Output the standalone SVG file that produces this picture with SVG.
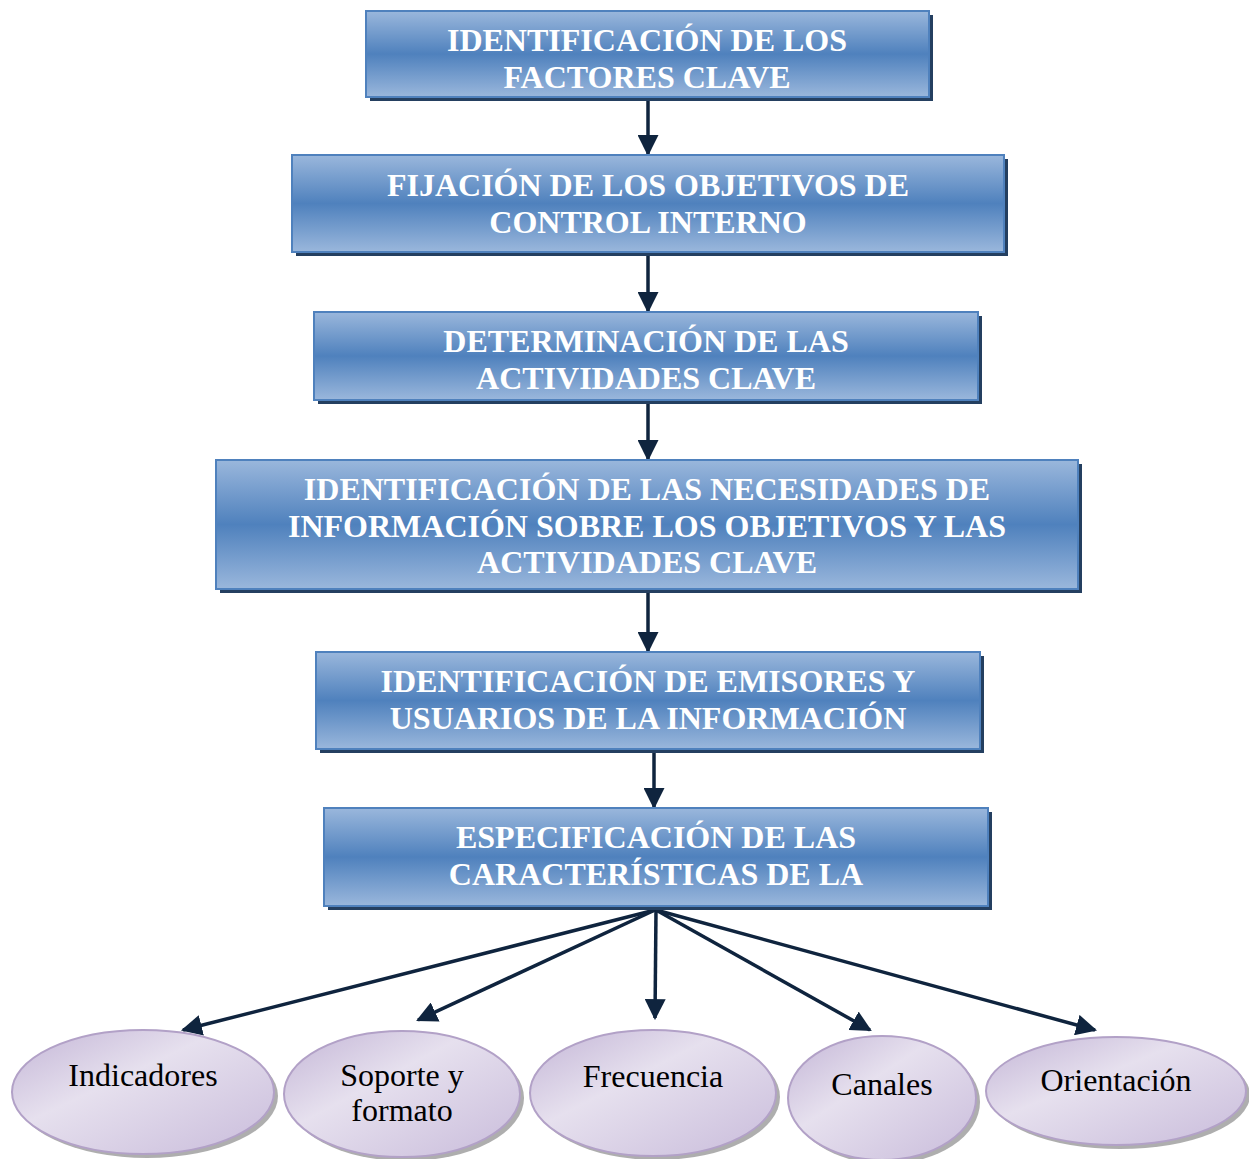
<svg xmlns="http://www.w3.org/2000/svg" width="1249" height="1159" viewBox="0 0 1249 1159">
  <defs>
    <linearGradient id="boxFill" x1="0" y1="0" x2="0" y2="1">
      <stop offset="0" stop-color="#9ab7dc"/>
      <stop offset="0.5" stop-color="#4f81bd"/>
      <stop offset="1" stop-color="#9ab7dc"/>
    </linearGradient>
    <linearGradient id="ovalFill" x1="0" y1="0" x2="1" y2="1">
      <stop offset="0" stop-color="#c3b5d6"/>
      <stop offset="0.4" stop-color="#e6e0ee"/>
      <stop offset="1" stop-color="#c9bcdb"/>
    </linearGradient>
    <marker id="head" viewBox="0 0 10 10" refX="9" refY="5" markerWidth="6" markerHeight="6" markerUnits="strokeWidth" orient="auto">
      <path d="M0,0 L10,5 L0,10 z" fill="#0f243e"/>
    </marker>
    <!-- text areas narrower than their boxes; overflow is cut off -->
    <clipPath id="c1"><rect x="366" y="11" width="563" height="77"/></clipPath>
    <clipPath id="c6"><rect x="324" y="808" width="664" height="98"/></clipPath>
  </defs>
  <style>
    .box { fill: url(#boxFill); stroke: #4f81bd; stroke-width: 2; }
    .shadow { fill: #243f60; }
    .btxt { font-family: 'Liberation Serif', serif; font-weight: bold; font-size: 32px; fill: #ffffff; text-anchor: middle; }
    .oval { fill: url(#ovalFill); stroke: #b2a1c7; stroke-width: 2; }
    .oshadow { fill: #8c8c8c; opacity: 0.7; }
    .otxt { font-family: 'Liberation Serif', serif; font-size: 32px; fill: #000000; text-anchor: middle; }
    .link { stroke: #0f243e; stroke-width: 3.5; fill: none; marker-end: url(#head); }
  </style>

  <g id="connectors">
    <line class="link" x1="648" y1="99" x2="648" y2="154"/>
    <line class="link" x1="648" y1="254" x2="648" y2="311"/>
    <line class="link" x1="648" y1="402" x2="648" y2="459"/>
    <line class="link" x1="648" y1="592" x2="648" y2="651"/>
    <line class="link" x1="654" y1="752" x2="654" y2="807"/>
    <line class="link" x1="655" y1="910" x2="183" y2="1030"/>
    <line class="link" x1="655" y1="910" x2="418" y2="1020"/>
    <line class="link" x1="656" y1="910" x2="655" y2="1018"/>
    <line class="link" x1="656" y1="910" x2="870" y2="1030"/>
    <line class="link" x1="656" y1="910" x2="1095" y2="1030"/>
  </g>

  <g id="box1">
    <rect class="shadow" x="370" y="15" width="563" height="86"/>
    <rect class="box" x="366" y="11" width="563" height="86"/>
    <g clip-path="url(#c1)">
      <text class="btxt" x="647" y="51">IDENTIFICACIÓN DE LOS</text>
      <text class="btxt" x="647" y="88">FACTORES CLAVE</text>
    </g>
  </g>

  <g id="box2">
    <rect class="shadow" x="296" y="159" width="712" height="97"/>
    <rect class="box" x="292" y="155" width="712" height="97"/>
    <text class="btxt" x="648" y="196">FIJACIÓN DE LOS OBJETIVOS DE</text>
    <text class="btxt" x="648" y="233">CONTROL INTERNO</text>
  </g>

  <g id="box3">
    <rect class="shadow" x="318" y="316" width="664" height="88"/>
    <rect class="box" x="314" y="312" width="664" height="88"/>
    <text class="btxt" x="646" y="352">DETERMINACIÓN DE LAS</text>
    <text class="btxt" x="646" y="389">ACTIVIDADES CLAVE</text>
  </g>

  <g id="box4">
    <rect class="shadow" x="220" y="464" width="862" height="129"/>
    <rect class="box" x="216" y="460" width="862" height="129"/>
    <text class="btxt" x="647" y="500">IDENTIFICACIÓN DE LAS NECESIDADES DE</text>
    <text class="btxt" x="647" y="537">INFORMACIÓN SOBRE LOS OBJETIVOS Y LAS</text>
    <text class="btxt" x="647" y="573">ACTIVIDADES CLAVE</text>
  </g>

  <g id="box5">
    <rect class="shadow" x="320" y="656" width="664" height="97"/>
    <rect class="box" x="316" y="652" width="664" height="97"/>
    <text class="btxt" x="648" y="692">IDENTIFICACIÓN DE EMISORES Y</text>
    <text class="btxt" x="648" y="729">USUARIOS DE LA INFORMACIÓN</text>
  </g>

  <g id="box6">
    <rect class="shadow" x="328" y="812" width="664" height="98"/>
    <rect class="box" x="324" y="808" width="664" height="98"/>
    <g clip-path="url(#c6)">
      <text class="btxt" x="656" y="848">ESPECIFICACIÓN DE LAS</text>
      <text class="btxt" x="656" y="885">CARACTERÍSTICAS DE LA</text>
    </g>
  </g>

  <g id="oval-indicadores">
    <ellipse class="oshadow" cx="147" cy="1096" rx="131" ry="62"/>
    <ellipse class="oval" cx="143" cy="1092" rx="131" ry="62"/>
    <text class="otxt" x="143" y="1086">Indicadores</text>
  </g>

  <g id="oval-soporte">
    <ellipse class="oshadow" cx="406" cy="1098" rx="118" ry="63"/>
    <ellipse class="oval" cx="402" cy="1094" rx="118" ry="63"/>
    <text class="otxt" x="402" y="1086">Soporte y</text>
    <text class="otxt" x="402" y="1121">formato</text>
  </g>

  <g id="oval-frecuencia">
    <ellipse class="oshadow" cx="657" cy="1097" rx="123" ry="63"/>
    <ellipse class="oval" cx="653" cy="1093" rx="123" ry="63"/>
    <text class="otxt" x="653" y="1087">Frecuencia</text>
  </g>

  <g id="oval-canales">
    <ellipse class="oshadow" cx="886" cy="1102" rx="94" ry="62"/>
    <ellipse class="oval" cx="882" cy="1098" rx="94" ry="62"/>
    <text class="otxt" x="882" y="1095">Canales</text>
  </g>

  <g id="oval-orientacion">
    <ellipse class="oshadow" cx="1120" cy="1095" rx="130" ry="54"/>
    <ellipse class="oval" cx="1116" cy="1091" rx="130" ry="54"/>
    <text class="otxt" x="1116" y="1091">Orientación</text>
  </g>
</svg>
